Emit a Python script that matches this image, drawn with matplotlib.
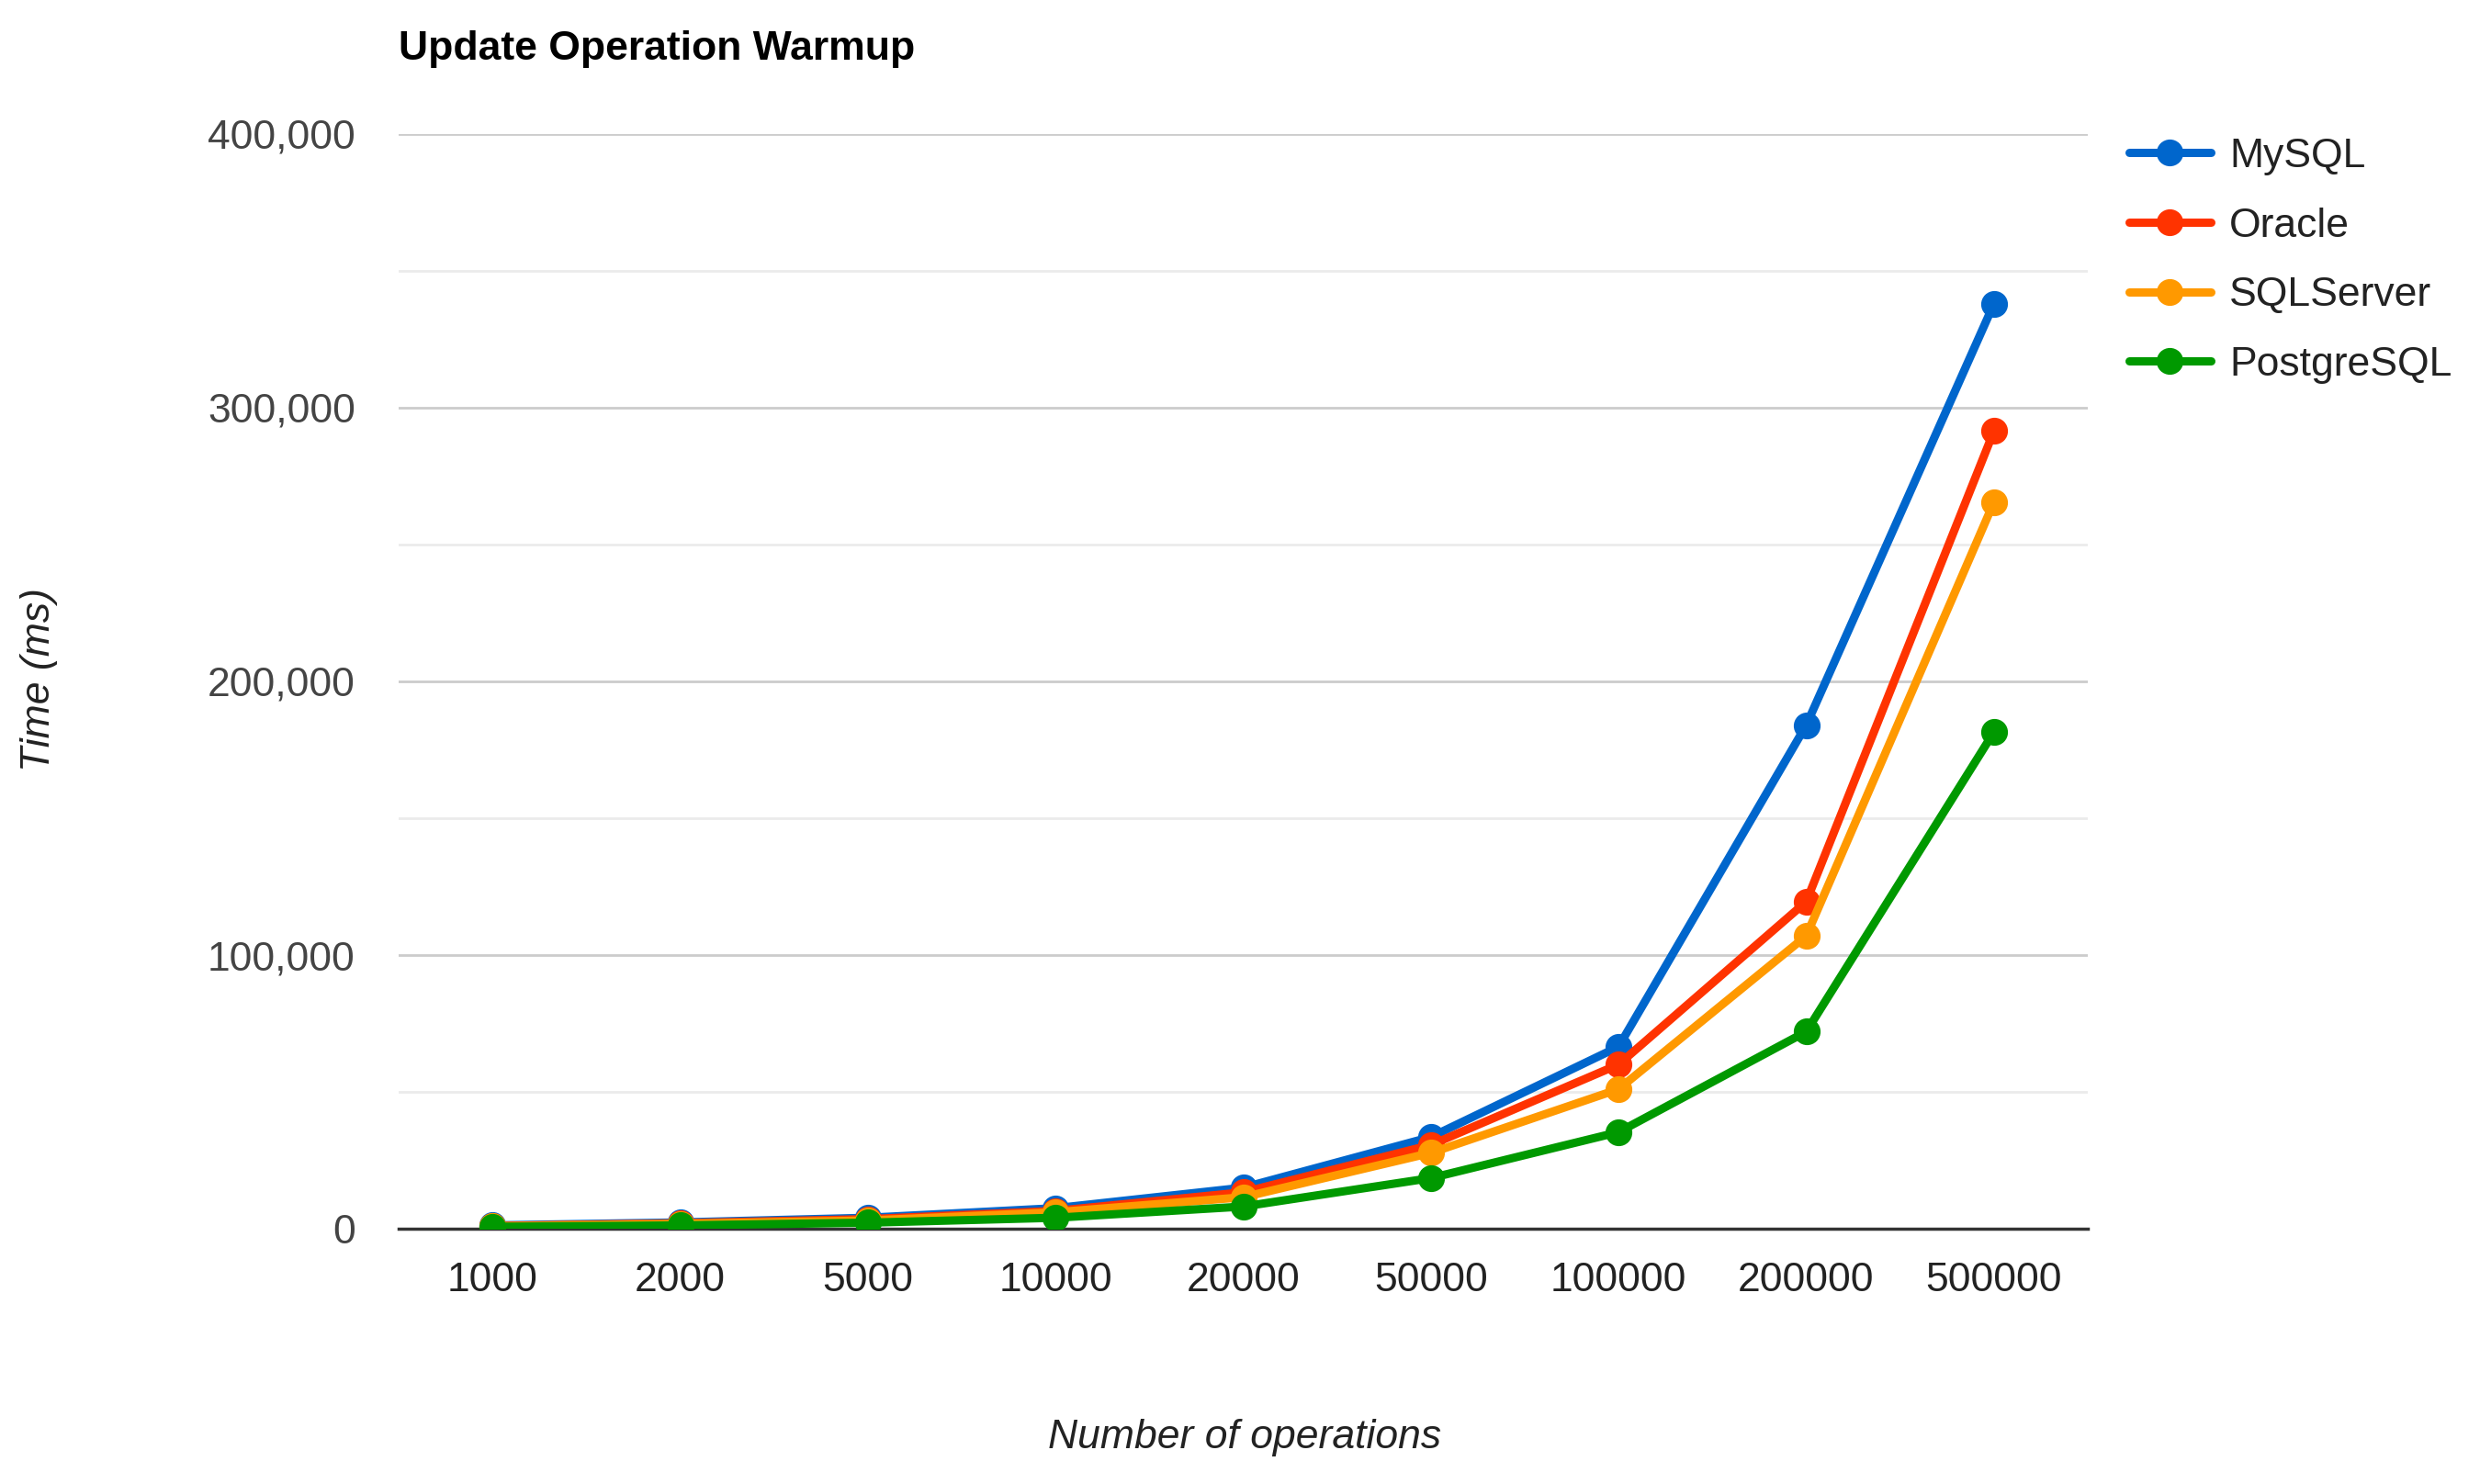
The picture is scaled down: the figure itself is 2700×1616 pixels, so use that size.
import matplotlib
matplotlib.use("Agg")
import matplotlib.pyplot as plt
from matplotlib.ticker import FuncFormatter, MultipleLocator

categories = ["1000", "2000", "5000", "10000", "20000", "50000", "100000", "200000", "500000"]
mysql = [1200, 2300, 4000, 7500, 15000, 33500, 66500, 184000, 338000]
oracle = [1000, 2000, 3500, 6500, 13300, 30600, 60000, 119500, 291500]
sqlserver = [900, 1800, 3000, 6000, 11500, 27700, 51000, 107000, 265500]
postgresql = [700, 1200, 2200, 4000, 8100, 18500, 35300, 72000, 181500]

series_names = ["MySQL", "Oracle", "SQLServer", "PostgreSQL"]
series_values = [mysql, oracle, sqlserver, postgresql]
colors = ["#0066cc", "#ff3300", "#ff9900", "#009900"]

plt.rcParams["font.family"] = ["Liberation Sans", "DejaVu Sans"]

W, H = 2700, 1616
fig = plt.figure(figsize=(W / 100, H / 100), dpi=100)
left, right, top, bottom = 434, 2273, 146, 1338
ax = fig.add_axes([left / W, 1 - bottom / H, (right - left) / W, (bottom - top) / H])

x = list(range(len(categories)))
for name, vals, c in zip(series_names, series_values, colors):
    ax.plot(x, vals, color=c, lw=6.5, marker="o", ms=20, mec=c, mfc=c,
            label=name, solid_joinstyle="round", solid_capstyle="round", zorder=3)

ax.set_xlim(-0.5, len(categories) - 0.5)
ax.set_ylim(0, 400000)
ax.yaxis.set_major_locator(MultipleLocator(100000))
ax.yaxis.set_minor_locator(MultipleLocator(50000))
ax.yaxis.set_major_formatter(FuncFormatter(lambda v, p: f"{int(v):,}"))
ax.set_xticks(x)
ax.set_xticklabels(categories)

ax.grid(axis="y", which="major", color="#cccccc", lw=2)
ax.grid(axis="y", which="minor", color="#ebebeb", lw=2)
ax.set_axisbelow(True)
for s in ["top", "right", "left"]:
    ax.spines[s].set_visible(False)
ax.spines["bottom"].set_color("#333333")
ax.spines["bottom"].set_linewidth(2.5)
ax.spines["bottom"].set_zorder(2)

ax.tick_params(axis="both", which="both", length=0, labelsize=32, colors="#444444")
ax.tick_params(axis="x", pad=26, labelcolor="#222222")
ax.tick_params(axis="y", pad=34)

fig.text(left / W, 1 - 53 / H, "Update Operation Warmup", fontsize=32, fontweight="bold",
         color="#000000", ha="left", va="center")
fig.text(43 / W, 1 - 740 / H, "Time (ms)", fontsize=32, style="italic", rotation=90,
         color="#222222", ha="center", va="center")
fig.text(1355 / W, 1 - 1566 / H, "Number of operations", fontsize=32, style="italic",
         color="#222222", ha="center", va="center")

leg = fig.legend(loc="upper left", bbox_to_anchor=(2318 / W, 1 - 150 / H), frameon=False,
                 fontsize=32, handlelength=2.0, handletextpad=0.45, labelspacing=0.78,
                 borderaxespad=0, borderpad=0)
for t in leg.get_texts():
    t.set_color("#222222")

fig.savefig("out.png", dpi=100, facecolor="white")
